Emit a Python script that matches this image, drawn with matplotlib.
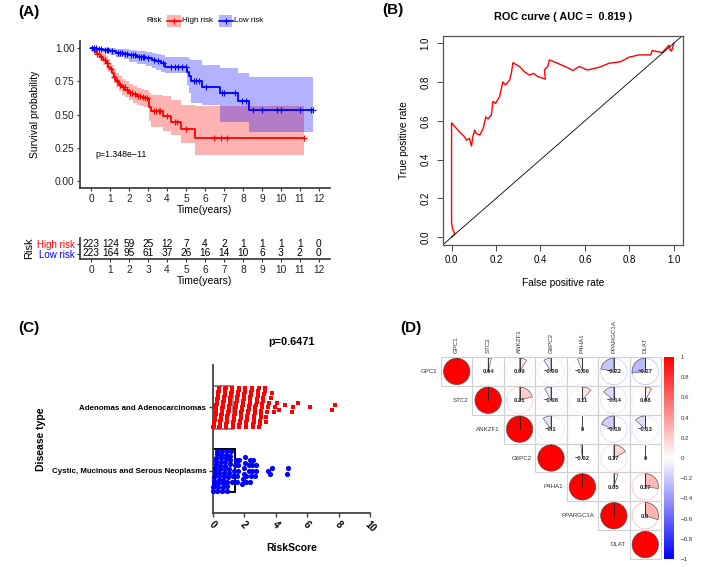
import numpy as np
import matplotlib
matplotlib.use("Agg")
import matplotlib.pyplot as plt
from matplotlib.patches import Wedge, Circle, Rectangle
from matplotlib.lines import Line2D
from matplotlib.colors import LinearSegmentedColormap, Normalize

plt.rcParams['font.family'] = ['Liberation Sans', 'DejaVu Sans']

# ---------------- data ----------------
# (A) Kaplan-Meier, high / low risk
high_t = [0, 0.1, 0.2, 0.3, 0.45, 0.6, 0.75, 0.9, 1.0, 1.1, 1.2, 1.3, 1.45, 1.6, 1.8, 2.0,
          2.2, 2.4, 2.6, 2.8, 3.05, 3.15, 3.8, 4.2, 4.72, 5.47]
high_s = [1.0, 0.985, 0.97, 0.955, 0.93, 0.91, 0.885, 0.86, 0.845, 0.815, 0.785, 0.755, 0.725,
          0.705, 0.685, 0.665, 0.655, 0.64, 0.63, 0.625, 0.56, 0.525, 0.487, 0.445, 0.39, 0.325]
high_up = [1.0, 0.995, 0.99, 0.98, 0.97, 0.955, 0.94, 0.915, 0.89, 0.87, 0.84, 0.815, 0.79,
           0.77, 0.75, 0.73, 0.715, 0.70, 0.69, 0.685, 0.66, 0.65, 0.64, 0.61, 0.575, 0.562]
high_lo = [1.0, 0.97, 0.95, 0.93, 0.90, 0.87, 0.845, 0.82, 0.81, 0.77, 0.74, 0.71, 0.675,
           0.65, 0.63, 0.61, 0.59, 0.575, 0.565, 0.56, 0.45, 0.41, 0.375, 0.35, 0.288, 0.195]
high_end = 11.25
high_cens = [0.15, 0.3, 0.5, 0.7, 0.85, 1.05, 1.2, 1.35, 1.5, 1.65, 1.75, 1.9, 2.05, 2.15, 2.3,
             2.45, 2.55, 2.7, 2.85, 2.95, 3.3, 3.4, 3.55, 3.65, 4.0, 4.4, 4.5, 5.0, 6.5, 6.85,
             7.15, 11.25]

low_t = [0, 0.3, 0.6, 1.0, 1.3, 1.7, 2.0, 2.4, 2.9, 3.2, 3.4, 3.7, 3.9, 5.07, 5.15, 5.26,
         5.83, 6.79, 7.75, 8.33]
low_s = [1.0, 0.99, 0.985, 0.975, 0.965, 0.955, 0.945, 0.935, 0.925, 0.91, 0.90, 0.885, 0.862,
         0.82, 0.79, 0.755, 0.705, 0.66, 0.605, 0.537]
low_up = [1.0, 1.0, 1.0, 1.0, 0.995, 0.99, 0.985, 0.975, 0.97, 0.962, 0.955, 0.945, 0.937,
          0.93, 0.92, 0.912, 0.875, 0.85, 0.81, 0.78]
low_lo = [1.0, 0.975, 0.965, 0.95, 0.935, 0.915, 0.895, 0.88, 0.865, 0.85, 0.835, 0.82, 0.81,
          0.72, 0.66, 0.587, 0.57, 0.445, 0.445, 0.367]
low_end = 11.7
low_cens = [0.05, 0.15, 0.25, 0.4, 0.5, 0.7, 0.8, 0.9, 1.1, 1.4, 1.5, 1.6, 1.8, 1.9, 2.1, 2.2,
            2.3, 2.5, 2.6, 2.7, 2.8, 3.0, 3.3, 3.5, 3.8, 4.2, 4.4, 4.6, 4.8, 5.0, 5.4, 5.55,
            5.7, 6.05, 6.9, 7.0, 7.6, 7.95, 8.15, 8.55, 9.0, 9.8, 10.0, 11.0, 11.6, 11.7]

risk_times = list(range(13))
high_n = [223, 124, 59, 25, 12, 7, 4, 2, 1, 1, 1, 1, 0]
low_n = [223, 164, 95, 61, 37, 26, 16, 14, 10, 6, 3, 2, 0]

# (B) ROC
fpr = [0, 0.015, 0.005, 0, 0, 0.03, 0.06, 0.067, 0.08, 0.09,
       0.094, 0.104, 0.11, 0.127, 0.142, 0.154, 0.164, 0.179, 0.186, 0.198,
       0.216, 0.231, 0.243, 0.261, 0.269, 0.276, 0.306, 0.328, 0.35, 0.37,
       0.385, 0.422, 0.418, 0.433, 0.44, 0.477, 0.5, 0.53, 0.545, 0.575,
       0.612, 0.664, 0.709, 0.761, 0.798, 0.843, 0.896, 0.903, 0.948, 0.978,
       0.985, 0.99, 1.0]
tpr = [0, 0.02, 0.04, 0.072, 0.59, 0.55, 0.515, 0.50, 0.51, 0.47,
       0.51, 0.553, 0.535, 0.527, 0.56, 0.62, 0.61, 0.63, 0.70, 0.69,
       0.725, 0.80, 0.785, 0.81, 0.845, 0.90, 0.88, 0.853, 0.836, 0.845,
       0.83, 0.815, 0.864, 0.88, 0.914, 0.897, 0.885, 0.87, 0.859, 0.88,
       0.862, 0.876, 0.897, 0.905, 0.928, 0.94, 0.94, 0.962, 0.952, 0.99,
       0.962, 0.96, 1.0]

# (C) risk score by disease type
disease_types = ['Cystic, Mucinous and Serous Neoplasms', 'Adenomas and Adenocarcinomas']
bar_values = [1.4, 1.3]
adeno_scores = [
    0.05, 0.08, 0.11, 0.13, 0.15, 0.17, 0.19, 0.21, 0.22, 0.24, 0.06, 0.10, 0.14, 0.18, 0.20, 0.23,
    0.26, 0.28, 0.30, 0.31, 0.33, 0.35, 0.36, 0.38, 0.40, 0.41, 0.43, 0.45, 0.47, 0.49, 0.27, 0.34, 0.44,
    0.51, 0.53, 0.55, 0.56, 0.58, 0.60, 0.62, 0.63, 0.65, 0.67, 0.69, 0.70, 0.72, 0.74, 0.52, 0.61, 0.68,
    0.76, 0.78, 0.80, 0.81, 0.83, 0.85, 0.87, 0.88, 0.90, 0.92, 0.94, 0.96, 0.98, 0.79, 0.86, 0.93,
    1.01, 1.03, 1.05, 1.07, 1.09, 1.11, 1.13, 1.15, 1.17, 1.19, 1.21, 1.23, 1.04, 1.12, 1.20,
    1.26, 1.28, 1.30, 1.33, 1.35, 1.37, 1.40, 1.42, 1.44, 1.46, 1.48, 1.31, 1.39,
    1.51, 1.53, 1.56, 1.58, 1.61, 1.63, 1.65, 1.68, 1.70, 1.72, 1.55, 1.66,
    1.76, 1.78, 1.81, 1.83, 1.86, 1.88, 1.91, 1.93, 1.96, 1.98, 1.80, 1.90,
    2.01, 2.03, 2.06, 2.08, 2.11, 2.14, 2.16, 2.19, 2.21, 2.24, 2.10,
    2.26, 2.29, 2.31, 2.34, 2.37, 2.40, 2.42, 2.45, 2.48, 2.35,
    2.51, 2.54, 2.57, 2.60, 2.63, 2.66, 2.69, 2.72, 2.61,
    2.76, 2.79, 2.82, 2.86, 2.89, 2.92, 2.95, 2.98, 2.85,
    3.01, 3.04, 3.08, 3.11, 3.15, 3.19, 3.22, 3.10,
    3.27, 3.31, 3.36, 3.40, 3.45, 3.33,
    3.52, 3.58,
    3.69, 3.75, 3.90, 3.97, 4.10, 4.20, 4.60, 5.05, 5.10, 5.40, 6.20, 7.60, 7.80]
cystic_scores = [
    0.03, 0.06, 0.09, 0.12, 0.15, 0.18, 0.21, 0.24, 0.05, 0.11, 0.17,
    0.26, 0.29, 0.32, 0.35, 0.38, 0.41, 0.44, 0.47, 0.30, 0.40,
    0.51, 0.54, 0.57, 0.60, 0.63, 0.66, 0.69, 0.72, 0.55, 0.65,
    0.76, 0.79, 0.82, 0.85, 0.88, 0.91, 0.94, 0.97, 0.80, 0.90,
    1.01, 1.04, 1.08, 1.12, 1.16, 1.20, 1.10,
    1.27, 1.33, 1.40, 1.45,
    1.52, 1.56, 1.60, 1.64, 1.70,
    1.85, 1.95, 2.00, 2.02, 2.05, 2.08, 2.10, 2.12,
    2.30, 2.33, 2.36, 2.40, 2.45, 2.48, 2.52, 2.55,
    2.70, 2.74, 2.78,
    3.50, 3.65, 3.80, 4.75, 4.76]

# (D) correlations, upper triangle row by row
genes = ['GPC1', 'STC2', 'ANKZF1', 'G6PC2', 'P4HA1', 'PPARGC1A', 'DLAT']
corr_upper = [
    [0.04, 0.09, -0.09, -0.06, -0.22, -0.27],
    [0.21, -0.08, 0.11, -0.14, 0.08],
    [-0.1, 0, -0.19, -0.13],
    [-0.02, 0.17, 0],
    [0.05, 0.27],
    [0.3],
]

# ---------------- figure ----------------
W, H = 720, 567
fig = plt.figure(figsize=(7.2, 5.67), dpi=100)


def px_axes(l, t, r, b):
    return fig.add_axes([l / W, 1 - b / H, (r - l) / W, (b - t) / H])


def fx(x):
    return x / W


def fy(y):
    return 1 - y / H


def step_at(times, surv, q):
    idx = np.searchsorted(times, q, side='right') - 1
    return np.asarray(surv)[idx]


GRAY = '#333333'

# ---- (A) survival curves ----
ax = px_axes(80, 41.5, 330, 188)
for t, s, up, lo, end, cens, col in [
        (high_t, high_s, high_up, high_lo, high_end, high_cens, 'red'),
        (low_t, low_s, low_up, low_lo, low_end, low_cens, 'blue')]:
    tt = list(t) + [end]
    ax.fill_between(tt, list(lo) + [lo[-1]], list(up) + [up[-1]], step='post',
                    color=col, alpha=0.3, lw=0)
    ax.step(tt, list(s) + [s[-1]], where='post', color=col, lw=1.3)
    ax.plot(cens, step_at(t, s, cens), '+', color=col, ms=4, mew=0.8)
ax.set_xlim(-0.6, 12.6)
ax.set_ylim(-0.05, 1.05)
ax.set_xticks(range(13))
ax.set_yticks([0, 0.25, 0.5, 0.75, 1.0])
ax.set_yticklabels(['0.00', '0.25', '0.50', '0.75', '1.00'])
ax.tick_params(labelsize=7.3, length=2.5, width=0.8, color=GRAY, labelcolor='#222222', pad=1.5)
for sp in ['top', 'right']:
    ax.spines[sp].set_visible(False)
for sp in ['left', 'bottom']:
    ax.spines[sp].set_color(GRAY)
    ax.spines[sp].set_linewidth(1.2)
ax.set_xlabel('Time(years)', fontsize=7.5, labelpad=1)
ax.set_ylabel('Survival probability', fontsize=7.5, labelpad=11)
ax.text(0.2, 0.2, 'p=1.348e\u221211', fontsize=6.3, va='center')

# legend
fig.text(fx(146), fy(20.7), 'Risk', fontsize=5.8, va='center')
for x0, col, lab in [(167, 'red', 'High risk'), (219, 'blue', 'Low risk')]:
    fig.add_artist(Rectangle((fx(x0), fy(27)), 13.5 / W, 12 / H, transform=fig.transFigure,
                             color=col, alpha=0.3, lw=0))
    fig.add_artist(Line2D([fx(x0), fx(x0 + 13.5)], [fy(20.7), fy(20.7)], transform=fig.transFigure,
                          color=col, lw=1.2))
    fig.add_artist(Line2D([fx(x0 + 6.75)], [fy(20.7)], transform=fig.transFigure, color=col,
                          marker='+', ms=4, mew=0.8))
    fig.text(fx(x0 + 15.5), fy(20.7), lab, fontsize=5.8, va='center')

# risk table
axr = px_axes(80, 238, 330, 259)
for i, tm in enumerate(risk_times):
    axr.text(tm, 2, str(high_n[i]), ha='center', va='center', fontsize=7.3)
    axr.text(tm, 1, str(low_n[i]), ha='center', va='center', fontsize=7.3)
axr.set_xlim(-0.6, 12.6)
axr.set_ylim(0.45, 2.55)
axr.set_xticks(range(13))
axr.set_yticks([2, 1])
axr.set_yticklabels(['High risk', 'Low risk'])
for lab, col in zip(axr.get_yticklabels(), ['red', 'blue']):
    lab.set_color(col)
axr.tick_params(labelsize=7, length=2.5, width=0.8, color=GRAY, pad=1.5)
axr.tick_params(axis='x', labelsize=7.3, labelcolor='#222222')
for sp in ['top', 'right']:
    axr.spines[sp].set_visible(False)
for sp in ['left', 'bottom']:
    axr.spines[sp].set_color(GRAY)
    axr.spines[sp].set_linewidth(1.2)
axr.set_xlabel('Time(years)', fontsize=7.5, labelpad=1)
axr.set_ylabel('Risk', fontsize=8, labelpad=2)

# ---- (B) ROC ----
axb = px_axes(442.7, 35.5, 682.7, 245)
axb.plot(fpr, tpr, color='red', lw=1)
axb.axline((0, 0), (1, 1), color='black', lw=0.6)
axb.set_xlim(-0.04, 1.04)
axb.set_ylim(-0.04, 1.04)
ticks = [0, 0.2, 0.4, 0.6, 0.8, 1.0]
axb.set_xticks(ticks)
axb.set_yticks(ticks)
axb.set_xticklabels(['%.1f' % v for v in ticks])
axb.set_yticklabels(['%.1f' % v for v in ticks], rotation=90, va='center')
axb.tick_params(labelsize=7, length=4, width=0.7, color='#444444')
axb.tick_params(axis='x', pad=3.5)
axb.tick_params(axis='y', pad=5)
for sp in axb.spines.values():
    sp.set_color('#555555')
    sp.set_linewidth(0.9)
axb.set_xlabel('False positive rate', fontsize=7.3, labelpad=9)
axb.set_ylabel('True positive rate', fontsize=7.3, labelpad=8)
axb.set_title('ROC curve ( AUC =  0.819 )', fontsize=7.8, fontweight='bold', pad=11)


# ---- (C) risk score by disease type ----
def column_offsets(vals, bw, half, step):
    # points of one x-bin are stacked bottom to top in value order
    vals = np.asarray(vals)
    order = np.argsort(vals, kind='stable')
    bins = np.floor(vals / bw).astype(int)
    off = np.zeros(len(vals))
    for b in np.unique(bins):
        idx = [k for k in order if bins[k] == b]
        n = len(idx)
        if n > 1:
            span = min(half, step * (n - 1) / 2)
            off[idx] = np.linspace(-span, span, n)
    return off


axc = px_axes(212.7, 365, 370, 512.7)
axc.barh([2, 1], [bar_values[1], bar_values[0]], height=0.68, fill=False,
         edgecolor=['#8a8a8a', 'black'], lw=1.4, zorder=1)
ya = 2 + column_offsets(adeno_scores, 0.42, 0.31, 0.075)
yc = 1 + column_offsets(cystic_scores, 0.3, 0.31, 0.085)
axc.scatter(adeno_scores, ya, marker='s', s=12, color='red', lw=0, zorder=3, clip_on=False)
axc.scatter(cystic_scores, yc, marker='o', s=14, color='blue', lw=0, zorder=3, clip_on=False)
axc.set_xlim(0, 10)
axc.set_ylim(0.34, 2.67)
axc.set_xticks([0, 2, 4, 6, 8, 10])
axc.set_xticklabels(['0', '2', '4', '6', '8', '10'], rotation=-45, ha='center', fontweight='bold')
axc.set_yticks([1, 2])
axc.set_yticklabels(disease_types, fontweight='bold', fontsize=5.7)
axc.tick_params(length=3, width=1, color='#444444', pad=1.5)
axc.tick_params(axis='x', labelsize=7)
for sp in ['top', 'right']:
    axc.spines[sp].set_visible(False)
for sp in ['left', 'bottom']:
    axc.spines[sp].set_color('#444444')
    axc.spines[sp].set_linewidth(1.3)
axc.set_xlabel('RiskScore', fontsize=7.5, fontweight='bold', labelpad=7)
axc.set_ylabel('Disease type', fontsize=7.5, fontweight='bold', labelpad=4)
fig.text(fx(291), fy(342), 'p=0.6471', fontsize=7.8, fontweight='bold', ha='center', va='center')

# ---- (D) correlation pies ----
n = len(genes)
corr = np.eye(n)
for i, row in enumerate(corr_upper):
    for k, v in enumerate(row):
        corr[i, i + 1 + k] = v
        corr[i + 1 + k, i] = v

cmap = LinearSegmentedColormap.from_list('bwr_corr', ['blue', 'white', 'red'])
norm = Normalize(-1, 1)

GW, GH = 220.0, 202.0
axd = px_axes(441, 357, 441 + GW, 357 + GH)
axd.set_xlim(0, GW)
axd.set_ylim(0, GH)
axd.axis('off')
cw, ch = GW / n, GH / n
rad = 13.2
for i in range(n):
    for j in range(i, n):
        v = corr[i, j]
        cx = (j + 0.5) * cw
        cy = GH - (i + 0.5) * ch
        axd.add_patch(Rectangle((j * cw, GH - (i + 1) * ch), cw, ch, fill=False,
                                ec='#d0d0d0', lw=0.8, clip_on=False))
        colr = cmap(norm(v))
        if i == j:
            axd.add_patch(Circle((cx, cy), rad, fc=colr, ec='#444444', lw=0.4))
        else:
            axd.add_patch(Circle((cx, cy), rad, fill=False, ec=colr, lw=0.5))
            if v > 0:
                axd.add_patch(Wedge((cx, cy), rad, 90 - 360 * v, 90, fc=colr, ec='#444444', lw=0.4))
            elif v < 0:
                axd.add_patch(Wedge((cx, cy), rad, 90, 90 - 360 * v, fc=colr, ec='#444444', lw=0.4))
            axd.text(cx, cy - 0.5, ('%g' % v).replace('-', '\u2212'), ha='center', va='center',
                     fontsize=4.2, fontweight='bold', color='#222222')
        axd.plot([cx, cx], [cy, cy + rad], color='#222222', lw=0.6)
    axd.text(i * cw - 4, GH - (i + 0.5) * ch, genes[i], ha='right', va='center',
             fontsize=4.4, color='#333333')
    axd.text((i + 0.5) * cw, GH + 4, genes[i], ha='center', va='bottom', rotation=90,
             fontsize=4.4, color='#333333')

axcb = px_axes(664, 357, 674, 559)
axcb.imshow(np.linspace(1, -1, 256)[:, None], aspect='auto', cmap=cmap, norm=norm,
            extent=[0, 1, -1, 1])
cb_ticks = [1, 0.8, 0.6, 0.4, 0.2, 0, -0.2, -0.4, -0.6, -0.8, -1]
axcb.set_xticks([])
axcb.yaxis.tick_right()
axcb.set_yticks(cb_ticks)
axcb.set_yticklabels([('%g' % v).replace('-', '\u2212') for v in cb_ticks])
axcb.tick_params(axis='y', labelsize=4.4, length=0, pad=5, labelcolor='#333333')
for sp in axcb.spines.values():
    sp.set_visible(False)

# panel letters
for lab, x, y in [('(A)', 18, 12), ('(B)', 382, 10), ('(C)', 18, 328), ('(D)', 400, 328)]:
    fig.text(fx(x), fy(y), lab, fontsize=11, fontweight='bold', va='center')

fig.savefig('out.png', dpi=100)
